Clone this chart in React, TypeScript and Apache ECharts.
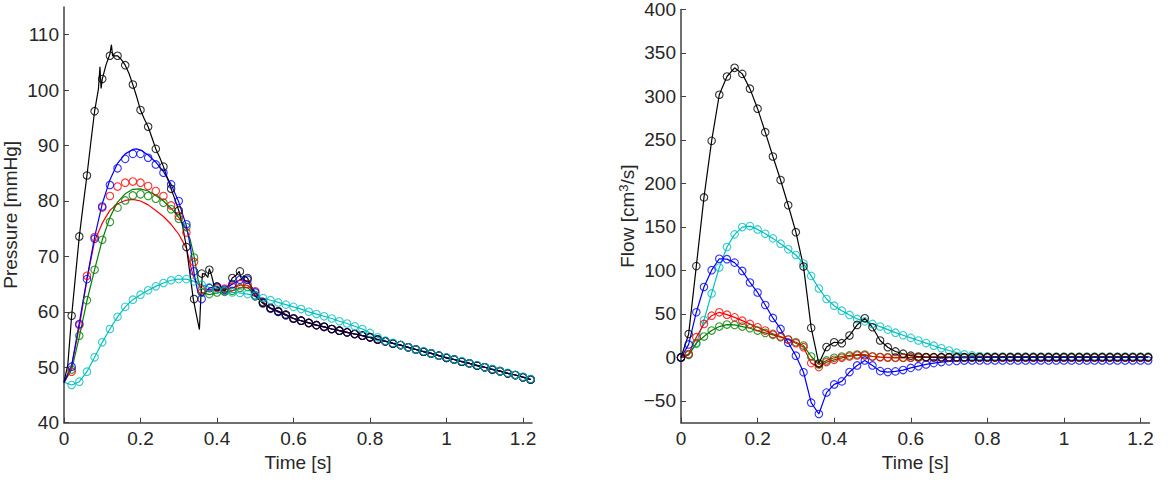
import React, { useEffect, useRef } from "react";
import * as echarts from "echarts";

// ---------- data ----------
const time = [0, 0.02, 0.04, 0.06, 0.08, 0.1, 0.12, 0.14, 0.16, 0.18, 0.2, 0.22, 0.24, 0.26, 0.28, 0.3, 0.32, 0.34, 0.36, 0.38, 0.4, 0.42, 0.44, 0.46, 0.48, 0.5, 0.52, 0.54, 0.56, 0.58, 0.6, 0.62, 0.64, 0.66, 0.68, 0.7, 0.72, 0.74, 0.76, 0.78, 0.8, 0.82, 0.84, 0.86, 0.88, 0.9, 0.92, 0.94, 0.96, 0.98, 1.0, 1.02, 1.04, 1.06, 1.08, 1.1, 1.12, 1.14, 1.16, 1.18, 1.2, 1.22];

const xTicks = [0, 0.2, 0.4, 0.6, 0.8, 1, 1.2];
const pressureTicks = [40, 50, 60, 70, 80, 90, 100, 110];
const flowTicks = [-50, 0, 50, 100, 150, 200, 250, 300, 350, 400];

// pressure circles, t = 0 .. 0.58 (no marker at t = 0)
const pBlackHead = [null, 59.3, 73.6, 84.6, 96.2, 102, 106.2, 106.2, 104.5, 101, 96.4, 93.4, 89.4, 86.2, 82.2, 78.3, 71.7, 62.3, 66.9, 67.6, 64.5, 63.8, 66.1, 67.3, 66.1, 62.8, 61.6, 60.7, 60.1, 59.5];
const pBlueHead = [null, 50.1, 57.8, 65.9, 73.2, 79.0, 82.9, 85.9, 87.6, 88.5, 88.5, 87.8, 86.6, 85.1, 83.0, 80.0, 75.8, 67.3, 62.3, 64.3, 64.6, 64.0, 65.0, 65.8, 65.8, 63.5, 61.7, 60.6, 60.0, 59.4];
const pRedHead = [null, 49.2, 57.6, 66.5, 73.5, 78.8, 80.9, 82.6, 83.3, 83.5, 83.3, 82.7, 81.8, 80.9, 79.2, 77.3, 74.3, 69.0, 64.0, 64.3, 64.3, 64.2, 64.5, 65.0, 65.0, 63.7, 61.8, 60.7, 60.1, 59.5];
const pGreenHead = [null, 49.6, 55.7, 62.1, 67.6, 73.0, 76.2, 78.8, 80.1, 81.0, 81.2, 80.9, 80.4, 79.7, 78.5, 76.8, 75.3, 69.8, 63.5, 63.2, 63.5, 63.6, 63.8, 64.3, 64.5, 63.0, 61.5, 60.6, 60.0, 59.4];
// common pressure decay, t = 0.60 .. 1.22
const pTail = [58.8, 58.4, 58.0, 57.6, 57.3, 56.9, 56.6, 56.3, 56.0, 55.7, 55.4, 55.0, 54.7, 54.3, 54.0, 53.6, 53.2, 52.8, 52.5, 52.1, 51.7, 51.4, 51.0, 50.7, 50.3, 50.0, 49.6, 49.3, 48.9, 48.6, 48.2, 47.8];
// cyan pressure, t = 0 .. 1.22
const pCyan = [null, 46.8, 47.4, 49.2, 51.8, 54.5, 56.9, 59.1, 60.9, 62.2, 63.1, 63.9, 64.6, 65.2, 65.7, 65.9, 65.9, 65.5, 64.9, 64.4, 64.0, 63.8, 63.5, 63.4, 63.2, 62.9, 62.5, 62.1, 61.7, 61.3, 60.9, 60.5, 60.0, 59.6, 59.2, 58.8, 58.3, 57.9, 57.4, 56.9, 56.2, 55.4, 54.8, 54.4, 54.0, 53.6, 53.2, 52.9, 52.5, 52.1, 51.8, 51.4, 51.1, 50.7, 50.4, 50.0, 49.7, 49.3, 49.0, 48.6, 48.3, 47.9];

// pressure model lines (t, P) up to 0.58
const pBlackLine = [[0, 47.3], [0.01, 50.5], [0.02, 59.3], [0.03, 66.5], [0.04, 73.6], [0.05, 79.2], [0.06, 84.6], [0.07, 90.5], [0.08, 96.2], [0.09, 100.2], [0.094, 104.2], [0.097, 100.3], [0.1, 102], [0.11, 104.6], [0.12, 106.5], [0.124, 108.2], [0.127, 106.2], [0.14, 106.2], [0.15, 105.5], [0.16, 104.5], [0.17, 103], [0.18, 101], [0.19, 98.8], [0.2, 96.4], [0.21, 94.8], [0.22, 93.4], [0.23, 91.4], [0.24, 89.4], [0.25, 87.9], [0.26, 86.2], [0.27, 84.2], [0.28, 82.2], [0.29, 80.3], [0.3, 78.3], [0.31, 75.5], [0.32, 71.7], [0.33, 66.5], [0.338, 62.3], [0.346, 59.5], [0.354, 56.8], [0.358, 63], [0.362, 66.9], [0.37, 66.8], [0.376, 66.2], [0.38, 67.8], [0.386, 66.5], [0.392, 64.8], [0.4, 64.5], [0.41, 64.1], [0.42, 63.8], [0.43, 64.8], [0.44, 66.1], [0.45, 66.6], [0.458, 67.3], [0.464, 65.8], [0.47, 66.5], [0.48, 66.1], [0.49, 64.3], [0.5, 62.8], [0.52, 61.6], [0.54, 60.7], [0.56, 60.1], [0.58, 59.5]];
const pBlueLine = [[0, 47.2], [0.02, 50.3], [0.04, 58], [0.06, 66], [0.08, 73.5], [0.1, 79.5], [0.12, 83.8], [0.14, 86.8], [0.16, 88.5], [0.18, 89.3], [0.19, 89.4], [0.2, 89.2], [0.22, 88.3], [0.24, 87], [0.26, 85.3], [0.28, 83], [0.3, 79.8], [0.32, 75.5], [0.33, 72], [0.34, 67], [0.35, 63.5], [0.36, 62.8], [0.38, 64.3], [0.4, 64.6], [0.42, 64.2], [0.44, 65], [0.46, 65.8], [0.48, 65.6], [0.5, 63.5], [0.52, 61.7], [0.54, 60.6], [0.56, 60.0], [0.58, 59.4]];
const pRedLine = [[0, 47.2], [0.02, 50.3], [0.04, 57.3], [0.06, 65.8], [0.08, 72.8], [0.1, 76], [0.12, 78.3], [0.14, 79.5], [0.16, 80.1], [0.18, 80.3], [0.2, 80], [0.22, 79.3], [0.24, 78.3], [0.26, 77.2], [0.28, 75.8], [0.3, 74], [0.32, 71.5], [0.33, 68.5], [0.34, 66], [0.36, 64.2], [0.38, 64], [0.4, 64], [0.42, 64], [0.44, 64.3], [0.46, 64.8], [0.48, 64.8], [0.5, 63.5], [0.52, 61.8], [0.54, 60.7], [0.56, 60.1], [0.58, 59.5]];
const pGreenLine = [[0, 47.2], [0.02, 49.6], [0.04, 55.5], [0.06, 62], [0.08, 67.6], [0.1, 73], [0.12, 77], [0.14, 79.8], [0.16, 81.3], [0.18, 82.1], [0.2, 82.2], [0.22, 81.8], [0.24, 81], [0.26, 80], [0.28, 78.7], [0.3, 77], [0.32, 75], [0.33, 73], [0.34, 70], [0.35, 66], [0.36, 63.5], [0.38, 63.1], [0.4, 63.4], [0.42, 63.6], [0.44, 63.8], [0.46, 64.3], [0.48, 64.4], [0.5, 63], [0.52, 61.5], [0.54, 60.6], [0.56, 60.0], [0.58, 59.4]];
const pCyanStart = 47.3;

// flow, t = 0 .. 1.22
const fBlack = [0, 27, 105, 184, 249, 302, 323, 333, 326, 309, 286, 259, 231, 204, 175, 144, 104.5, 34, -7, 12, 17.5, 16.4, 25.2, 37.4, 45, 34.7, 19.5, 11.8, 6.9, 4.3, 2, 1, 0.5, 0.4, 0.3, 0.3, 0.3, 0.3, 0.3, 0.3, 0.3, 0.3, 0.3, 0.3, 0.3, 0.3, 0.3, 0.3, 0.3, 0.3, 0.3, 0.3, 0.3, 0.3, 0.3, 0.3, 0.3, 0.3, 0.3, 0.3, 0.3, 0.3];
const fCyan = [0, 3, 15.6, 43, 73.6, 103.3, 127, 141.5, 149.9, 151, 147.2, 142.2, 136.9, 130.8, 124.4, 117.8, 107.9, 93.8, 79.3, 67.2, 59.5, 53.8, 48.9, 44.3, 41.5, 38.5, 35.5, 32, 28.5, 25.5, 22.5, 19.5, 16.5, 13.5, 10.5, 8, 5.5, 3.5, 2.3, 1.6, 1.2, 1, 1, 1, 1, 1, 1, 1, 1, 1, 1, 1, 1, 1, 1, 1, 1, 1, 1, 1, 1, 1];
const fBlue = [0, 15, 52, 81, 100.3, 113.5, 113, 109, 99.5, 86.2, 74.7, 60.3, 45.4, 32.8, 17, 2, -17, -52, -65, -40.4, -31, -27.5, -16.8, -9.2, -3.4, -9.2, -15.7, -16.8, -16, -14.5, -12, -10, -8, -6.5, -5.3, -4.5, -4, -3.6, -3.4, -3.4, -3.4, -3.4, -3.4, -3.4, -3.4, -3.4, -3.4, -3.4, -3.4, -3.4, -3.4, -3.4, -3.4, -3.4, -3.4, -3.4, -3.4, -3.4, -3.4, -3.4, -3.4, -3.4];
const fRed = [0, 4, 23.3, 38.5, 48, 51.9, 49.2, 46.1, 42.3, 38.5, 34.7, 30.9, 27.1, 24, 20.6, 16.4, 11.8, -6.5, -11.1, -5.3, -2.7, -0.4, 1.1, 2.3, 2.3, 1.1, 0.3, -0.3, -0.5, -0.5, -0.3, 0, 0, 0, 0, 0, 0, 0, 0, 0, 0, 0, 0, 0, 0, 0, 0, 0, 0, 0, 0, 0, 0, 0, 0, 0, 0, 0, 0, 0, 0, 0];
const fGreen = [0, 3, 16.5, 24, 30.9, 35.5, 37.8, 37.4, 35.5, 33.6, 30.9, 28.2, 26, 23.3, 20.6, 17.5, 13.7, 1.1, -8, -3.4, -0.4, 1.1, 2.3, 3.4, 3.4, 1.1, 0.5, 0.2, 0, 0, 0, 0, 0, 0, 0, 0, 0, 0, 0, 0, 0, 0, 0, 0, 0, 0, 0, 0, 0, 0, 0, 0, 0, 0, 0, 0, 0, 0, 0, 0, 0, 0];

// ---------- styling ----------
const C = { k: "#000000", b: "#0000ff", r: "#ff0000", g: "#008000", c: "#00bfbf" };
const FONT = "'Liberation Sans', Arial, Helvetica, sans-serif";
const AXIS = "#404040";
const TEXT = "#262626";

function pairs(ts: number[], vs: (number | null)[]) {
  return ts.map((t, i) => [t, vs[i]]).filter((p) => p[1] !== null && p[1] !== undefined);
}

export default function App() {
  const ref = useRef<HTMLDivElement>(null);
  useEffect(() => {
    const chart = echarts.init(ref.current!, null, { renderer: "svg" });
    const tailT = time.slice(30);
    const tailPairs = pairs(tailT, pTail);
    const full = (head: (number | null)[]) => head.concat(pTail);

    const lineS = (ax: number, data: any[], color: string) => ({
      type: "line",
      xAxisIndex: ax,
      yAxisIndex: ax,
      data,
      symbol: "none",
      showSymbol: false,
      silent: true,
      lineStyle: { color, width: 1.2 },
      z: 2,
    });
    const dotS = (ax: number, data: any[], color: string) => ({
      type: "scatter",
      xAxisIndex: ax,
      yAxisIndex: ax,
      data,
      symbol: "circle",
      symbolSize: 7.5,
      silent: true,
      itemStyle: { color: "rgba(0,0,0,0)", borderColor: color, borderWidth: 1.1 },
      z: 3,
    });

    const textStyle = { fontSize: 19, color: TEXT, fontFamily: FONT };
    const xAxis = (gi: number) => ({
      type: "value",
      gridIndex: gi,
      min: 0,
      max: 1.2235,
      name: "Time [s]",
      nameLocation: "middle",
      nameGap: 27,
      nameTextStyle: textStyle,
      axisLine: { show: true, onZero: false, lineStyle: { color: AXIS, width: 1.5 } },
      axisTick: { show: true, inside: true, length: 5, customValues: xTicks, lineStyle: { color: AXIS } },
      axisLabel: {
        customValues: xTicks,
        margin: 6,
        ...textStyle,
        formatter: (v: number) => String(Math.round(v * 10) / 10),
      },
      splitLine: { show: false },
    });

    const option = {
      animation: false,
      backgroundColor: "#ffffff",
      grid: [
        { left: 62, top: 7, width: 470, height: 415.7 },
        { left: 681, top: 7, width: 468.5, height: 415.7 },
      ],
      xAxis: [xAxis(0), xAxis(1)],
      yAxis: [
        {
          type: "value",
          gridIndex: 0,
          min: 40,
          max: 115,
          name: "Pressure [mmHg]",
          nameLocation: "middle",
          nameGap: 44,
          nameTextStyle: textStyle,
          axisLine: { show: true, onZero: false, lineStyle: { color: AXIS, width: 1.5 } },
          axisTick: { show: true, inside: true, length: 5, customValues: pressureTicks, lineStyle: { color: AXIS } },
          axisLabel: { customValues: pressureTicks, margin: 5, ...textStyle },
          splitLine: { show: false },
        },
        {
          type: "value",
          gridIndex: 1,
          min: -75,
          max: 400,
          name: "{n|Flow [cm}{s|3}{n|/s]}",
          nameLocation: "middle",
          nameGap: 43,
          nameTextStyle: {
            ...textStyle,
            rich: {
              n: { fontSize: 19, color: TEXT, fontFamily: FONT },
              s: { fontSize: 13, color: TEXT, fontFamily: FONT, verticalAlign: "top", padding: [0, 0, 8, 0] },
            },
          },
          axisLine: { show: true, onZero: false, lineStyle: { color: AXIS, width: 1.5 } },
          axisTick: { show: true, inside: true, length: 5, customValues: flowTicks, lineStyle: { color: AXIS } },
          axisLabel: {
            customValues: flowTicks,
            margin: 5,
            ...textStyle,
            formatter: (v: number) => (v < 0 ? "\u2212" + Math.abs(v) : String(v)),
          },
          splitLine: { show: false },
        },
      ],
      series: [
        // pressure lines
        lineS(0, [[0, pCyanStart]].concat(pairs(time, pCyan) as any), C.c),
        lineS(0, (pGreenLine as any[]).concat(tailPairs), C.g),
        lineS(0, (pRedLine as any[]).concat(tailPairs), C.r),
        lineS(0, (pBlueLine as any[]).concat(tailPairs), C.b),
        lineS(0, (pBlackLine as any[]).concat(tailPairs), C.k),
        // pressure circles
        dotS(0, pairs(time, full(pGreenHead)), C.g),
        dotS(0, pairs(time, full(pRedHead)), C.r),
        dotS(0, pairs(time, full(pBlueHead)), C.b),
        dotS(0, pairs(time, full(pBlackHead)), C.k),
        dotS(0, pairs(time, pCyan), C.c),
        // flow lines
        lineS(1, pairs(time, fCyan), C.c),
        lineS(1, pairs(time, fGreen), C.g),
        lineS(1, pairs(time, fRed), C.r),
        lineS(1, pairs(time, fBlue), C.b),
        lineS(1, pairs(time, fBlack), C.k),
        // flow circles
        dotS(1, pairs(time, fCyan), C.c),
        dotS(1, pairs(time, fGreen), C.g),
        dotS(1, pairs(time, fRed), C.r),
        dotS(1, pairs(time, fBlue), C.b),
        dotS(1, pairs(time, fBlack), C.k),
      ],
    };
    chart.setOption(option as any);
    return () => chart.dispose();
  }, []);
  return (
    <div
      ref={ref}
      style={{ position: "absolute", left: 0, top: 0, width: 1171, height: 496, background: "#fff" }}
    />
  );
}
